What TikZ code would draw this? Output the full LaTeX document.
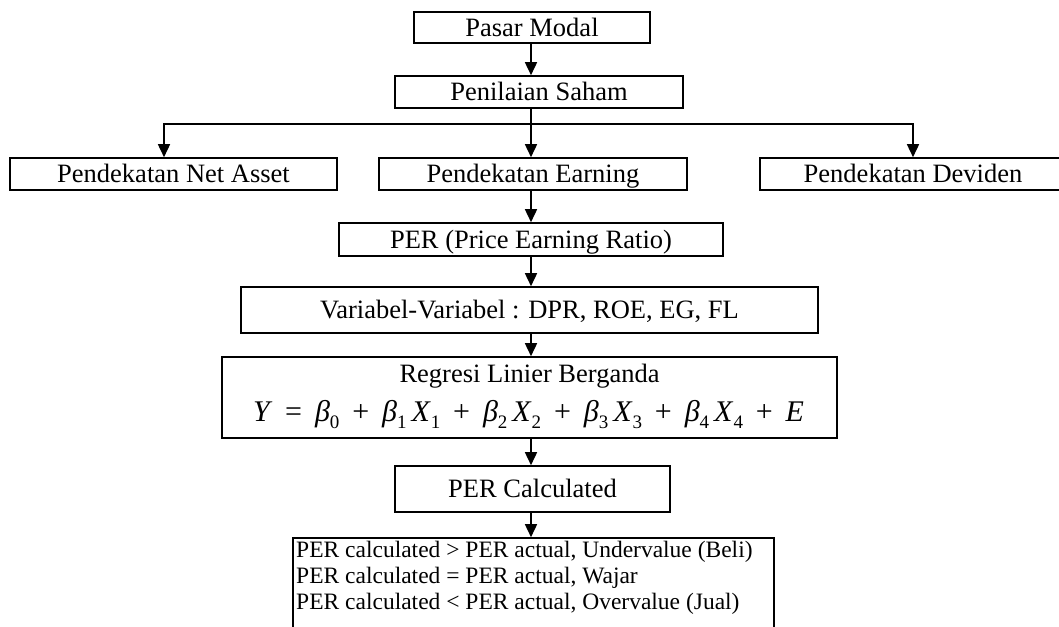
\documentclass[tikz,border=0pt]{standalone}
\usepackage{fontspec}
\setmainfont{Liberation Serif}
\usetikzlibrary{arrows.meta}
\newcommand\fsub[1]{\raisebox{-7pt}{\fontsize{19}{19}\selectfont #1}}
\newcommand\fit[1]{\textit{#1}}
\begin{document}
\begin{tikzpicture}[x=1pt,y=-1pt,
  box/.style={draw, line width=1.6pt, inner sep=0pt, text height=17.5pt, text depth=0pt,
              font=\fontsize{26.5}{30}\selectfont},
  arr/.style={line width=1.6pt, -{Triangle[width=12pt,length=13pt]}},
  rowtext/.style={inner sep=0pt, anchor=base west, font=\fontsize{23.5}{26}\selectfont},
  ctext/.style={inner sep=0pt, anchor=base, font=\fontsize{26.5}{30}\selectfont}]
\useasboundingbox (0,0) rectangle (1059,626);

\node[box, minimum width=236pt, minimum height=31pt] (pasar) at (532,27.5) {Pasar Modal};
\node[box, minimum width=288pt, minimum height=32pt] (penilaian) at (539,92) {Penilaian Saham};
\node[box, minimum width=327pt, minimum height=32pt] (netasset) at (173.5,174) {Pendekatan Net Asset};
\node[box, minimum width=308pt, minimum height=32pt] (earning) at (533,174) {Pendekatan Earning};
\node[box, minimum width=306pt, minimum height=32pt] (deviden) at (913,174) {Pendekatan Deviden};
\node[box, minimum width=384pt, minimum height=33pt] (per) at (531,239.5) {PER (Price Earning Ratio)};
\node[box, minimum width=577pt, minimum height=46pt] (variabel) at (529.5,310) {Variabel-Variabel : DPR, ROE, EG, FL};
\node[box, minimum width=615pt, minimum height=81pt] (regresi) at (529.5,397.5) {};
\node[ctext] (regtitle) at (529.5,382) {Regresi Linier Berganda};
\node[inner sep=0pt, anchor=base, font=\fontsize{30}{32}\selectfont] (formula) at (528.5,421)
  {\makebox[551pt][s]{\fit{Y} = \fit{β}\fsub{0} + \fit{β}\fsub{1}\,\fit{X}\fsub{1} + \fit{β}\fsub{2}\,\fit{X}\fsub{2} + \fit{β}\fsub{3}\,\fit{X}\fsub{3} + \fit{β}\fsub{4}\,\fit{X}\fsub{4} + \fit{E}}};
\node[box, minimum width=275pt, minimum height=46pt] (percalc) at (532.5,489) {PER Calculated};
\node[draw, line width=1.6pt, inner sep=0pt, minimum width=481pt, minimum height=110pt] (last) at (533.5,593) {};
\node[rowtext] (r1) at (296,557) {PER calculated > PER actual, Undervalue (Beli)};
\node[rowtext] (r2) at (296,583) {PER calculated = PER actual, Wajar};
\node[rowtext] (r3) at (296,609) {PER calculated < PER actual, Overvalue (Jual)};

\coordinate (ax) at (531,0);
\coordinate (bl) at (164,124);
\coordinate (br) at (913,124);

\draw[arr] (pasar.south -| ax) -- (penilaian.north -| ax);
\draw[arr] (penilaian.south -| ax) -- (earning.north -| ax);
\draw[arr] (ax |- bl) -- (bl) -- (netasset.north -| bl);
\draw[arr] (ax |- br) -- (br) -- (deviden.north -| br);
\draw[arr] (earning.south -| ax) -- (per.north -| ax);
\draw[arr] (per.south -| ax) -- (variabel.north -| ax);
\draw[arr] (variabel.south -| ax) -- (regresi.north -| ax);
\draw[arr] (regresi.south -| ax) -- (percalc.north -| ax);
\draw[arr] (percalc.south -| ax) -- (last.north -| ax);
\end{tikzpicture}
\end{document}
